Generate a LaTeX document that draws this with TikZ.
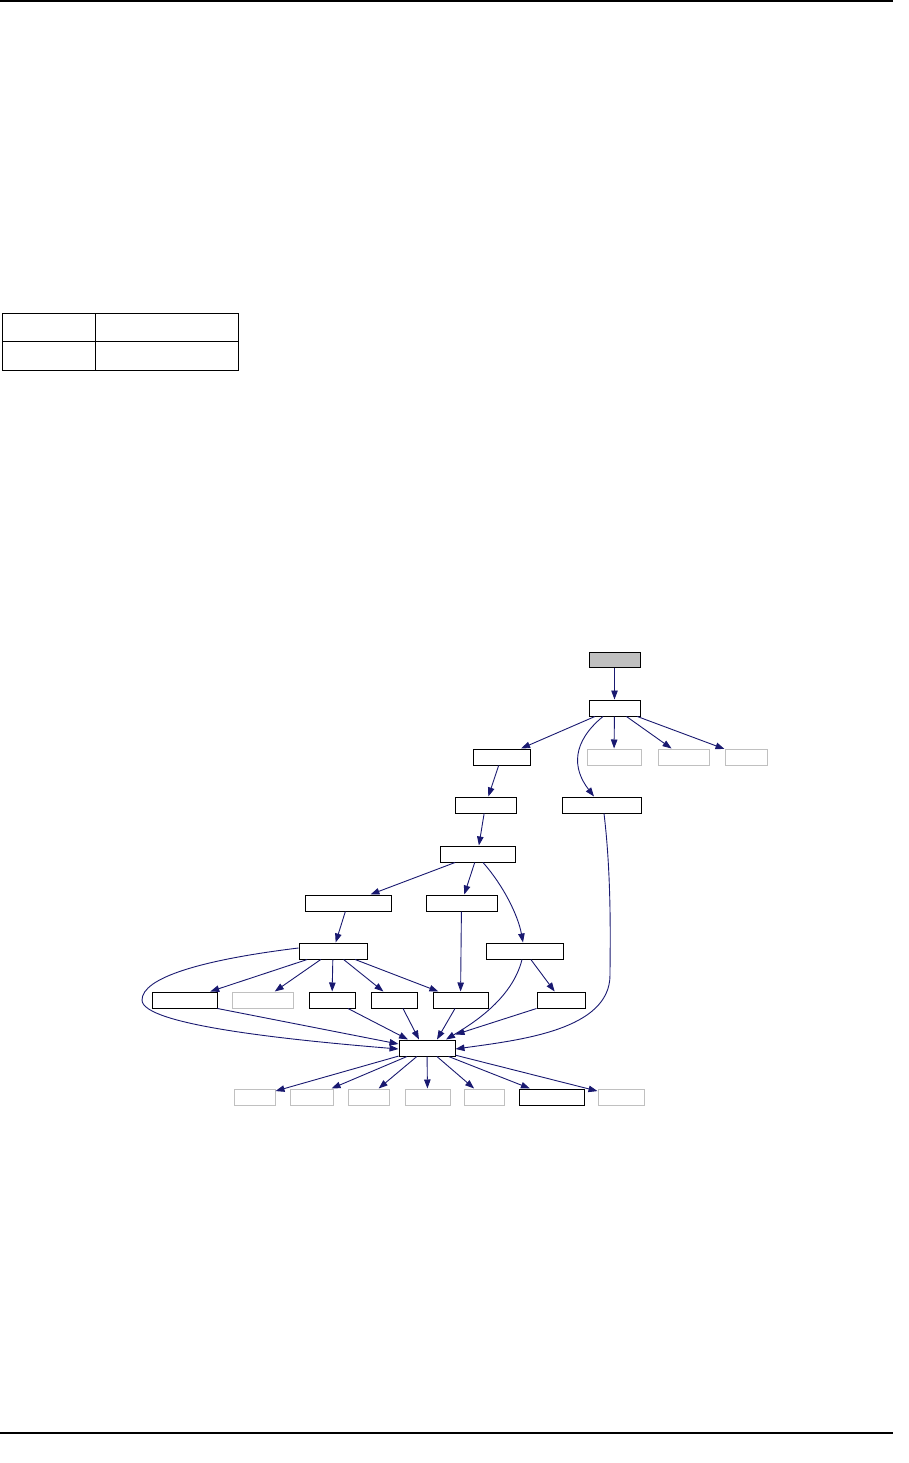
\documentclass[tikz,border=0pt]{standalone}
\usetikzlibrary{arrows.meta,fit}
\definecolor{navy}{HTML}{191970}
\definecolor{lgray}{HTML}{C0C0C0}
\tikzset{
  box/.style={draw=black, line width=1pt, inner sep=0pt, fill=white},
  gbox/.style={draw=lgray, line width=1pt, inner sep=0pt, fill=white},
  rootbox/.style={draw=black, line width=1pt, inner sep=0pt, fill=lgray},
  edge/.style={draw=navy, line width=0.9pt, -{Triangle[length=9pt,width=6.5pt]}},
  rule/.style={line width=1.2pt},
  tab/.style={line width=1pt}
}
\newcommand{\bx}[6]{\node[#6, fit={(#2,#3) (#4,#5)}] (#1) {};}
\begin{document}
\begin{tikzpicture}[x=1pt,y=-1pt]
\useasboundingbox (0,0) rectangle (908,1463);
% page rules
\coordinate (tl) at (0,1); \coordinate (tr) at (893,1);
\coordinate (bl) at (0,1433); \coordinate (br) at (893,1433);
\draw[rule] (tl) -- (tr);
\draw[rule] (bl) -- (br);
% table
\draw[tab] (2,313) rectangle (238,370);
\draw[tab] (2,341) -- (238,341);
\draw[tab] (95,313) -- (95,370);
% nodes
\bx{root}{589}{652}{640}{667}{rootbox}
\bx{N1}{589}{700}{640}{716}{box}
\bx{A}{473}{749}{530}{765}{box}
\bx{G1}{587}{749}{641}{765}{gbox}
\bx{G2}{658}{749}{709}{765}{gbox}
\bx{G3}{725}{749}{767}{765}{gbox}
\bx{B}{455}{797}{516}{813}{box}
\bx{C}{562}{797}{641}{813}{box}
\bx{D}{440}{846}{515}{862}{box}
\bx{E}{305}{895}{391}{911}{box}
\bx{F}{426}{895}{497}{911}{box}
\bx{H}{299}{943}{367}{959}{box}
\bx{I}{486}{943}{563}{959}{box}
\bx{J}{152}{992}{217}{1008}{box}
\bx{K}{232}{992}{293}{1008}{gbox}
\bx{L}{309}{992}{355}{1008}{box}
\bx{M}{371}{992}{417}{1008}{box}
\bx{O}{433}{992}{488}{1008}{box}
\bx{P}{537}{992}{585}{1008}{box}
\bx{Q}{399}{1040}{455}{1056}{box}
\bx{R1}{234}{1089}{275}{1105}{gbox}
\bx{R2}{290}{1089}{333}{1105}{gbox}
\bx{R3}{348}{1089}{389}{1105}{gbox}
\bx{R4}{405}{1089}{450}{1105}{gbox}
\bx{R5}{464}{1089}{504}{1105}{gbox}
\bx{R6}{519}{1089}{584}{1105}{box}
\bx{R7}{598}{1089}{644}{1105}{gbox}
% edges
\draw[edge] (root) -- (N1);
\draw[edge] (N1) -- (A);
\draw[edge] (N1) -- (G1);
\draw[edge] (N1) -- (G2);
\draw[edge] (N1) -- (G3);
\draw[edge] ([xshift=-11.5pt]N1.south) .. controls (572,742) and (572,768) .. ([xshift=-7.5pt]C.north);
\draw[edge] (A) -- (B);
\draw[edge] (B) -- (D);
\draw[edge] (D) -- (E);
\draw[edge] (D) -- (F);
\draw[edge] ([xshift=5.5pt]D.south) .. controls (503,885) and (518,915) .. ([xshift=-1.5pt]I.north);
\draw[edge] (E) -- (H);
\draw[edge] (F) -- (O);
\draw[edge] (H) -- (J);
\draw[edge] (H) -- (K);
\draw[edge] (H) -- (L);
\draw[edge] (H) -- (M);
\draw[edge] (H) -- (O);
\draw[edge] (I) -- (P);
\draw[edge] ([yshift=3pt]H.west) .. controls (200,960) and (142,978) .. (142,1000)
   .. controls (142,1025) and (290,1040) .. ([yshift=-1pt]Q.west);
\draw[edge] (J.south east) -- ([yshift=4pt]Q.west);
\draw[edge] ([xshift=16pt]L.south) -- ([xshift=-19pt]Q.north);
\draw[edge] ([xshift=9pt]M.south) -- ([xshift=-8pt]Q.north);
\draw[edge] ([xshift=-5.5pt]O.south) -- ([xshift=10pt]Q.north);
\draw[edge] ([xshift=-2.5pt]I.south) .. controls (512,1000) and (470,1025) .. ([xshift=19pt]Q.north);
\draw[edge] (P.south west) -- ([yshift=5pt]Q.north east);
\draw[edge] ([xshift=2.5pt]C.south) .. controls (612,880) and (610,950) .. (610,975)
   .. controls (610,1030) and (520,1040) .. ([yshift=-1pt]Q.east);
\draw[edge] (Q) -- (R1);
\draw[edge] (Q) -- (R2);
\draw[edge] (Q) -- (R3);
\draw[edge] (Q) -- (R4);
\draw[edge] (Q) -- (R5);
\draw[edge] (Q) -- (R6);
\draw[edge] (Q) -- (R7);
\end{tikzpicture}
\end{document}
